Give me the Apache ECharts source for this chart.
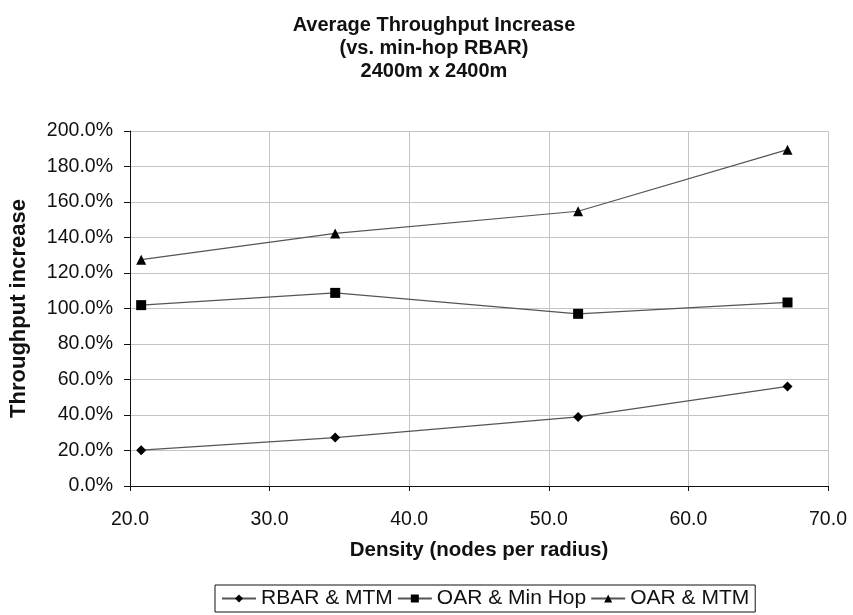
<!DOCTYPE html>
<html>
<head>
<meta charset="utf-8">
<script src="https://cdn.jsdelivr.net/npm/echarts@6/dist/echarts.min.js"></script>
<style>html,body{margin:0;padding:0;background:#fff}#c{width:853px;height:615px}</style>
</head>
<body>
<div id="c"></div>
<script>
const xTicks = [20, 30, 40, 50, 60, 70];
const yTicks = [0, 20, 40, 60, 80, 100, 120, 140, 160, 180, 200];
const density = [20.8, 34.7, 52.1, 67.1];
const rbarMtm = [20.2, 27.3, 38.9, 56.1];
const oarMinHop = [101.9, 108.8, 97.0, 103.4];
const oarMtm = [127.5, 142.3, 154.8, 189.5];
const seriesNames = ['RBAR & MTM', 'OAR & Min Hop', 'OAR & MTM'];

const font = 'Liberation Sans, Arial, sans-serif';
function pairs(ys){ return density.map((x,i)=>[x, ys[i]]); }
const chart = echarts.init(document.getElementById('c'));
const lineStyle = {color:'#555', width:1.2};
chart.setOption({
  animation:false,
  backgroundColor:'#fff',
  title:{
    text:'Average Throughput Increase\n(vs. min-hop RBAR)\n2400m x 2400m',
    left:429, textAlign:'center', top:9,
    textStyle:{fontFamily:font, fontSize:20, fontWeight:'bold', color:'#111', lineHeight:23}
  },
  grid:{left:127, right:25, top:131, bottom:129},
  xAxis:{
    type:'value', min:xTicks[0], max:xTicks[xTicks.length-1], interval:10,
    name:'Density (nodes per radius)', nameLocation:'middle', nameGap:54,
    nameTextStyle:{fontFamily:font, fontSize:20.5, fontWeight:'bold', color:'#111'},
    axisLine:{lineStyle:{color:'#111', width:1}},
    axisTick:{show:true, length:5, lineStyle:{color:'#111'}},
    axisLabel:{fontFamily:font, fontSize:19.5, color:'#111', margin:24, formatter:v=>v.toFixed(1)},
    splitLine:{show:true, lineStyle:{color:'#c4c4c4', width:1}}
  },
  yAxis:{
    type:'value', min:yTicks[0], max:yTicks[yTicks.length-1], interval:20,
    name:'Throughput increase', nameLocation:'middle', nameGap:100, nameRotate:90,
    nameTextStyle:{fontFamily:font, fontSize:22, fontWeight:'bold', color:'#111'},
    axisLine:{show:true, lineStyle:{color:'#111', width:1}},
    axisTick:{show:true, length:6, lineStyle:{color:'#111'}},
    axisLabel:{fontFamily:font, fontSize:19.5, color:'#111', margin:17, formatter:v=>v.toFixed(1)+'%'},
    splitLine:{show:true, lineStyle:{color:'#c4c4c4', width:1}}
  },
  legend:{
    bottom:3, left:215,
    data:seriesNames,
    orient:'horizontal',
    borderColor:'#111', borderWidth:1, padding:[3,6,3,6],
    itemWidth:34, itemHeight:10, itemGap:4,
    textStyle:{fontFamily:font, fontSize:21, color:'#111'}
  },
  series:[
    {name:seriesNames[0], type:'line', data:pairs(rbarMtm), symbol:'diamond', symbolSize:10,
     itemStyle:{color:'#000'}, lineStyle:lineStyle},
    {name:seriesNames[1], type:'line', data:pairs(oarMinHop), symbol:'rect', symbolSize:10,
     itemStyle:{color:'#000'}, lineStyle:lineStyle},
    {name:seriesNames[2], type:'line', data:pairs(oarMtm), symbol:'triangle', symbolSize:10,
     itemStyle:{color:'#000'}, lineStyle:lineStyle}
  ]
});
</script>
</body>
</html>
